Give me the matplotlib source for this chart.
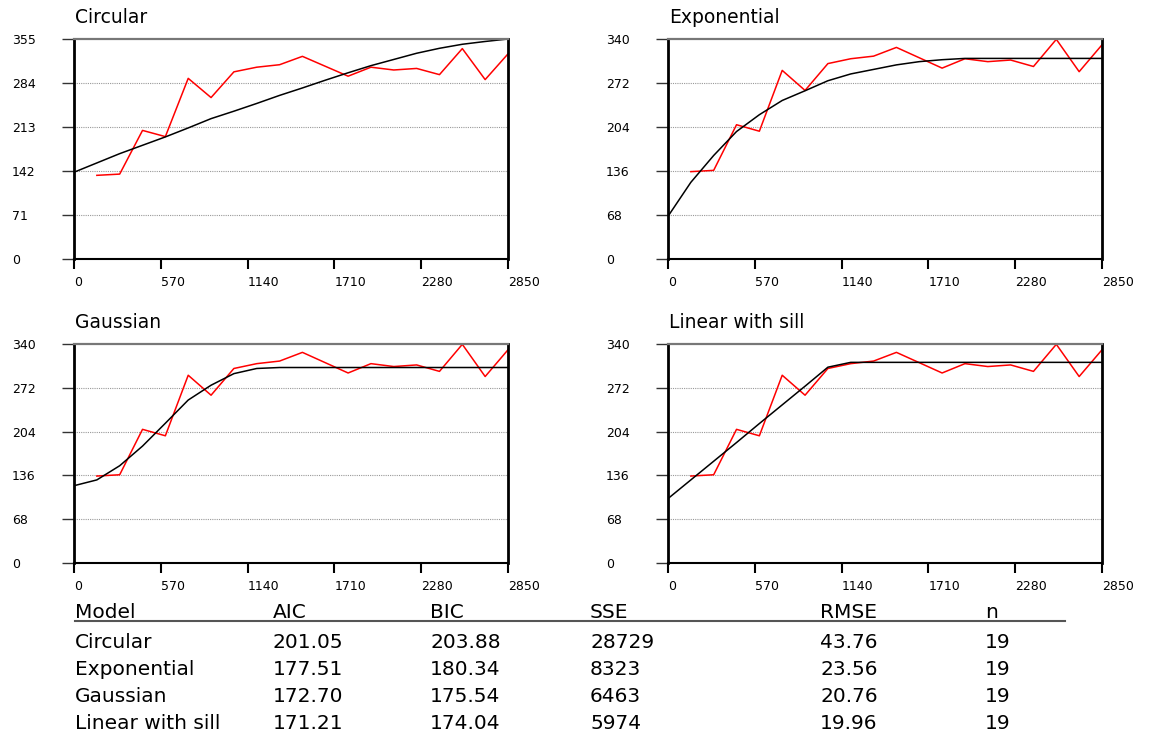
import matplotlib
matplotlib.use('Agg')
import matplotlib.pyplot as plt

# lag distances
model_lags = [0, 150, 300, 450, 600, 750, 900, 1050, 1200, 1350, 1500,
              1650, 1800, 1950, 2100, 2250, 2400, 2550, 2700, 2850]
emp_lags = model_lags[1:]

# empirical semivariogram (red)
empirical = [135, 137, 207.5, 197.5, 291.5, 260.5, 302, 309.5, 313.5, 327,
             311, 295, 309.5, 305, 307.5, 297.5, 339.5, 289.5, 331]

# fitted models (black)
circular = [140, 155, 170, 183.5, 197, 211.5, 226.5, 238.5, 251, 264, 276,
            288.5, 300.5, 312, 322, 332, 340, 346.5, 351, 355]
exponential = [66, 118.5, 160, 197, 223, 245, 260, 275.5, 286, 293, 300,
               305, 308, 310, 310, 310, 310, 310, 310, 310]
gaussian = [120, 129, 151, 181.5, 217, 253, 276, 294, 302, 303.5, 303.5,
            303.5, 303.5, 303.5, 303.5, 303.5, 303.5, 303.5, 303.5, 303.5]
linear_sill = [100, 129, 158, 187, 216.5, 245.5, 274.5, 304, 311.5, 311.5, 311.5,
               311.5, 311.5, 311.5, 311.5, 311.5, 311.5, 311.5, 311.5, 311.5]

titles = ['Circular', 'Exponential', 'Gaussian', 'Linear with sill']
yticks_circ = [0, 71, 142, 213, 284, 355]
yticks_other = [0, 68, 136, 204, 272, 340]
xticks = [0, 570, 1140, 1710, 2280, 2850]

# fit statistics table
col_names = ['Model', 'AIC', 'BIC', 'SSE', 'RMSE', 'n']
aic = [201.05, 177.51, 172.70, 171.21]
bic = [203.88, 180.34, 175.54, 174.04]
sse = [28729, 8323, 6463, 5974]
rmse = [43.76, 23.56, 20.76, 19.96]
n_pairs = [19, 19, 19, 19]

plt.rcParams['font.family'] = 'DejaVu Sans'

W, H = 1149, 735
fig = plt.figure(figsize=(W / 100, H / 100), dpi=100)

# axes boxes in pixels: (left, top, right, bottom)
boxes = [(74, 39, 508, 259), (668, 39, 1102, 259),
         (74, 344, 508, 563), (668, 344, 1102, 563)]
models = [circular, exponential, gaussian, linear_sill]

for i, (l, t, r, b) in enumerate(boxes):
    ax = fig.add_axes([l / W, 1 - b / H, (r - l) / W, (b - t) / H])
    yt = yticks_circ if i == 0 else yticks_other
    ax.plot(emp_lags, empirical, color='red', lw=1.1, zorder=3)
    ax.plot(model_lags, models[i], color='black', lw=1.1, zorder=4)
    ax.set_xlim(0, 2850)
    ax.set_ylim(0, yt[-1])
    ax.set_xticks(xticks)
    ax.set_yticks(yt)
    ax.set_xticklabels([str(v) for v in xticks], ha='left')
    ax.set_yticklabels([str(v) for v in yt], ha='left')
    ax.tick_params(axis='x', direction='out', length=7, width=1.5, color='black',
                   pad=5, labelsize=9)
    ax.tick_params(axis='y', direction='out', length=8.6, width=1, color='#333333',
                   pad=36, labelsize=9)
    for v in yt[1:-1]:
        ax.axhline(v, color='#999999', lw=0.8, ls=(0, (1, 1)), zorder=1)
    ax.spines['left'].set_linewidth(2)
    ax.spines['right'].set_linewidth(2)
    ax.spines['bottom'].set_linewidth(1.5)
    ax.spines['top'].set_linewidth(1.6)
    ax.spines['top'].set_color('#777777')
    for s in ax.spines.values():
        s.set_zorder(5)
    ax.annotate(titles[i], xy=(0, 1), xycoords='axes fraction',
                xytext=(1, 22 * 0.72), textcoords='offset points',
                ha='left', va='center', fontsize=13.5)

# table below the plots
col_x = [75, 273, 430, 590, 820, 985]
header_base = 618
row_base = [648, 675, 702, 729]
tsize = 14.5

for x, name in zip(col_x, col_names):
    fig.text(x / W, 1 - header_base / H, name, fontsize=tsize,
             ha='left', va='baseline')
fig.add_artist(plt.Line2D([75 / W, 1065 / W], [1 - 621 / H, 1 - 621 / H],
                          color='#555555', lw=1.5))

for k in range(len(titles)):
    cells = [titles[k], f'{aic[k]:.2f}', f'{bic[k]:.2f}', f'{sse[k]}',
             f'{rmse[k]:.2f}', f'{n_pairs[k]}']
    for x, txt in zip(col_x, cells):
        fig.text(x / W, 1 - row_base[k] / H, txt, fontsize=tsize,
                 ha='left', va='baseline')

fig.savefig('out.png', dpi=100)
